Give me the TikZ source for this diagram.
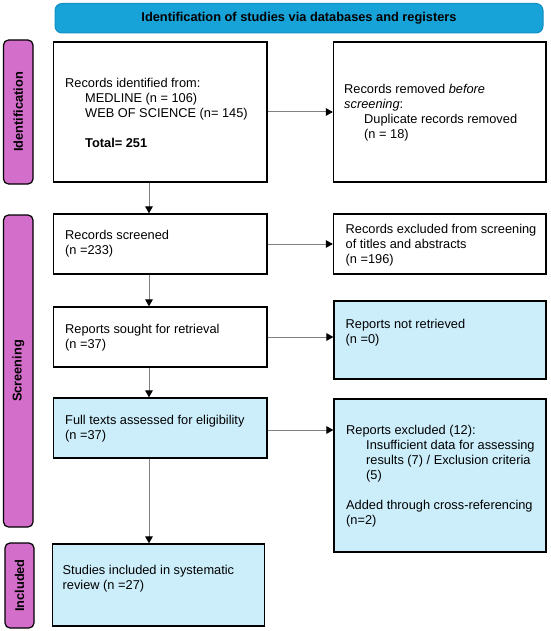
\documentclass[tikz,border=0pt]{standalone}
\usepackage{fontspec}
\setmainfont{Liberation Sans}
\usetikzlibrary{arrows.meta}
\definecolor{bannerfill}{HTML}{17A2D8}
\definecolor{bannerline}{HTML}{1290C4}
\definecolor{pinkfill}{HTML}{D46ECB}
\definecolor{lbluefill}{HTML}{CCEEFB}
\definecolor{arrowgray}{HTML}{808080}
\begin{document}
\begin{tikzpicture}[x=1pt,y=-1pt,
  every node/.style={font=\fontsize{12.8}{15}\selectfont},
  box/.style={draw=black, line width=1.2pt, fill=white, inner sep=0pt},
  bluebox/.style={box, fill=lbluefill},
  sidelabel/.style={draw=black, line width=1.2pt, fill=pinkfill, rounded corners=5pt, inner sep=0pt},
  sidetext/.style={rotate=90, font=\fontsize{12.8}{15}\selectfont\bfseries, inner sep=0pt},
  boxtext/.style={anchor=west, align=left, inner sep=0pt},
  arr/.style={draw=arrowgray, line width=1pt, -{Triangle[length=7pt,width=7.5pt,color=black]}}
]
\useasboundingbox (0,0) rectangle (550,631);

% banner
\node[draw=bannerline, line width=1pt, fill=bannerfill, rounded corners=7pt,
      minimum width=488pt, minimum height=29.5pt, inner sep=0pt,
      font=\fontsize{12.8}{15}\selectfont\bfseries] (banner) at (299,18.25)
      {Identification of studies via databases and registers};

% side labels
\node[sidelabel, minimum width=29.5pt, minimum height=144pt] (L1) at (18.25,112) {};
\node[sidetext] (L1t) at (L1.center) {Identification};
\node[sidelabel, minimum width=29.5pt, minimum height=312pt] (L2) at (18.25,371) {};
\node[sidetext] (L2t) at (L2.center) {Screening};
\node[sidelabel, minimum width=29pt, minimum height=85pt] (L3) at (19.5,585.5) {};
\node[sidetext] (L3t) at (L3.center) {Included};

% boxes
\node[box, minimum width=213.5pt, minimum height=140pt] (b1) at (160.25,112) {};
\node[box, minimum width=212.5pt, minimum height=140pt] (b2) at (439.75,112) {};
\node[box, minimum width=213.5pt, minimum height=60pt] (b3) at (160.25,244) {};
\node[box, minimum width=212.5pt, minimum height=60pt] (b4) at (439.75,244) {};
\node[box, minimum width=213.5pt, minimum height=60pt] (b5) at (160.25,337) {};
\node[bluebox, minimum width=212pt, minimum height=78pt] (b6) at (440,340) {};
\node[bluebox, minimum width=213.5pt, minimum height=60pt] (b7) at (160.25,428) {};
\node[bluebox, minimum width=212pt, minimum height=153pt] (b8) at (440,475.5) {};
\node[bluebox, minimum width=212pt, minimum height=82pt] (b9) at (158.5,585) {};

% texts
\node[boxtext] (t1) at (65,113) {Records identified from:\\
  \hspace*{20pt}MEDLINE (n = 106)\\
  \hspace*{20pt}WEB OF SCIENCE (n= 145)\\[15pt]
  \hspace*{20pt}\textbf{Total= 251}};
\node[boxtext] (t2) at (344,113) {Records removed \textit{before}\\
  \textit{screening}:\\
  \hspace*{20pt}Duplicate records removed\\
  \hspace*{20pt}(n = 18)};
\node[boxtext] (t3) at (65,244) {Records screened\\(n =233)};
\node[boxtext] (t4) at (345.5,245) {Records excluded from screening\\of titles and abstracts\\(n =196)};
\node[boxtext] (t5) at (65,338) {Reports sought for retrieval\\(n =37)};
\node[boxtext] (t6) at (345.5,333) {Reports not retrieved\\(n =0)};
\node[boxtext] (t7) at (65,429) {Full texts assessed for eligibility\\(n =37)};
\node[boxtext] (t8) at (346,476.5) {Reports excluded (12):\\
  \hspace*{20pt}Insufficient data for assessing\\
  \hspace*{20pt}results (7) / Exclusion criteria\\
  \hspace*{20pt}(5)\\[15pt]
  Added through cross-referencing\\
  (n=2)};
\node[boxtext] (t9) at (62.5,578.5) {Studies included in systematic\\review (n =27)};

% connectors
\coordinate (vx) at (149,0);
\draw[arr] (b1.east) -- (b2.west);
\draw[arr] (b3.east) -- (b4.west);
\draw[arr] (b5.east) -- (b5.east -| b6.west);
\draw[arr] ([yshift=-2pt]b7.east) -- ([yshift=-2pt]b7.east -| b8.west);
\draw[arr] (b1.south -| vx) -- (b3.north -| vx);
\draw[arr] (b3.south -| vx) -- (b5.north -| vx);
\draw[arr] (b5.south -| vx) -- (b7.north -| vx);
\draw[arr] (b7.south -| vx) -- (b9.north -| vx);
\end{tikzpicture}
\end{document}
